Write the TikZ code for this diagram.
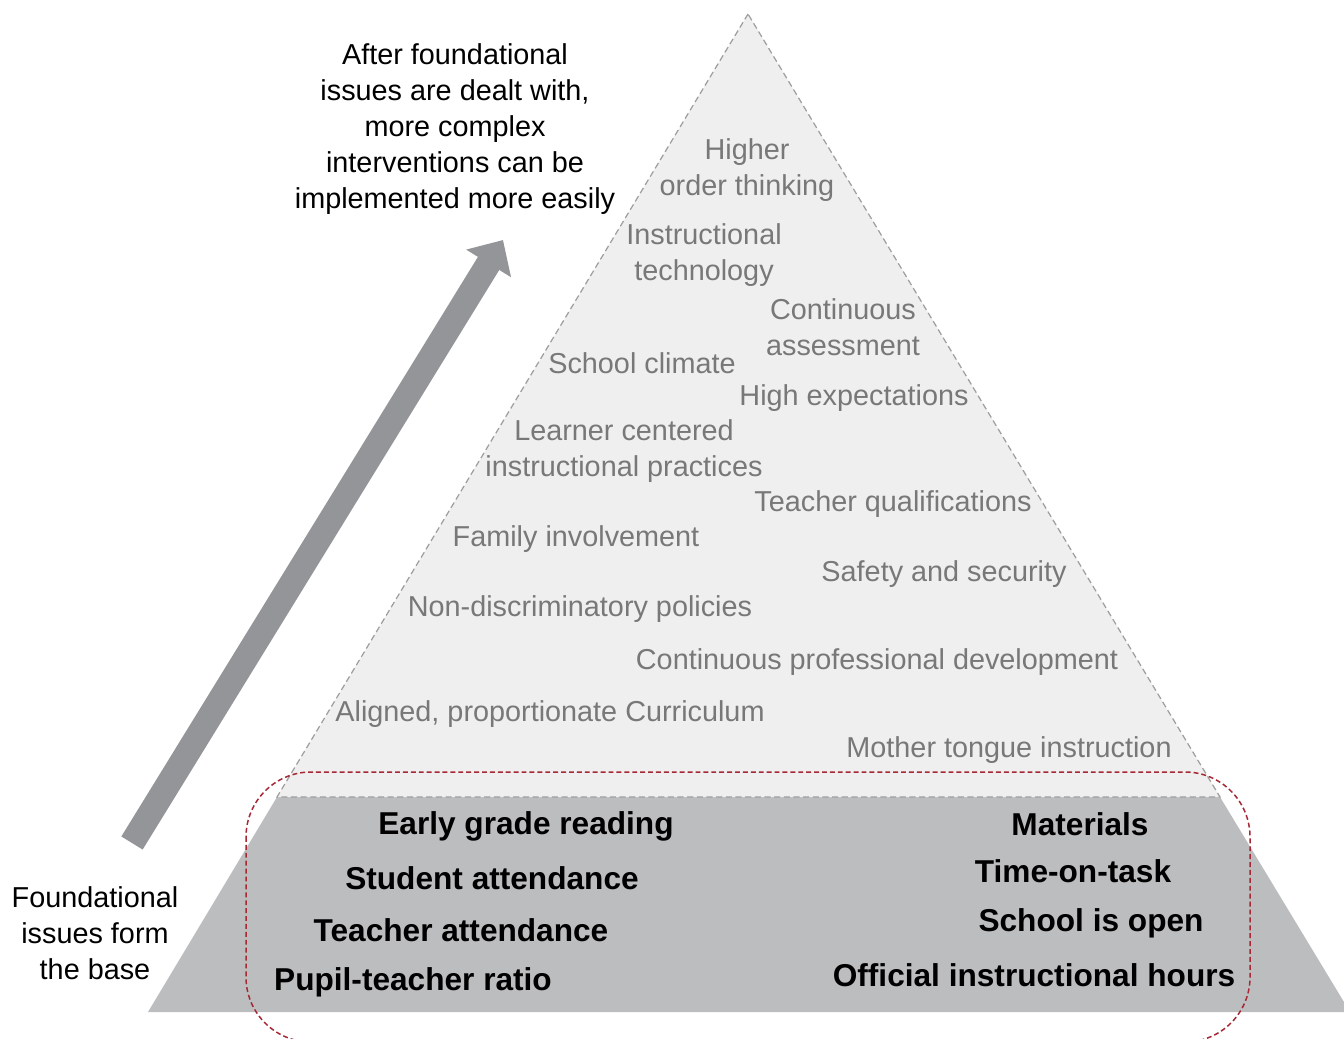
\documentclass[tikz,border=0pt]{standalone}
\usepackage{fontspec}
\setmainfont{Liberation Sans}
\usetikzlibrary{arrows.meta}
\definecolor{lightfill}{RGB}{239,239,239}
\definecolor{basefill}{RGB}{188,189,191}
\definecolor{edgegray}{RGB}{158,158,158}
\definecolor{labelgray}{RGB}{120,120,120}
\definecolor{arrowgray}{RGB}{148,149,152}
\definecolor{darkred}{RGB}{165,40,52}

\begin{document}
\begin{tikzpicture}[x=0.02cm,y=-0.02cm,
  upper/.style={text=labelgray,font=\fontsize{16.4}{20.6}\selectfont,align=center,inner sep=0},
  lower/.style={font=\fontsize{18}{22}\selectfont\bfseries,inner sep=0},
  note/.style={font=\fontsize{16.4}{20.4}\selectfont,align=center,inner sep=0}]
  %canvas in pixels of the reference
  \useasboundingbox (0,0) rectangle (1344,1038);
  \clip (0,0) rectangle (1344,1038);
  \coordinate (top) at (748,14);
  \coordinate (ml) at (277,797);
  \coordinate (mr) at (1220,797);
  \coordinate (bl) at (148,1012);
  \coordinate (br) at (1350,1012);
  %base and upper part
  \fill[basefill] (ml) -- (mr) -- (br) -- (bl) -- cycle;
  \fill[lightfill] (top) -- (ml) -- (mr) -- cycle;
  \draw[edgegray,line width=0.7pt,dash pattern=on 3.5pt off 2pt] (top) -- (ml) -- (mr) -- cycle;
  %foundations frame
  \draw[darkred,line width=0.85pt,dash pattern=on 2.8pt off 1.7pt,rounded corners=1.3cm] (246,772) rectangle (1250,1042);
  %big arrow
  \coordinate (tail) at (132,843);
  \coordinate (tip) at (503,240);
  \draw[arrowgray,line width=0.5cm,-{Triangle[length=0.55cm,width=1.02cm]}] (tail) -- (tip);
  %side notes
  \node[note] (after) at (455,129) {After foundational\\issues are dealt with,\\more complex\\interventions can be\\implemented more easily};
  \node[note] (found) at (95,933) {Foundational\\issues form\\the base};
  %upper labels
  \node[upper] (higher) at (747,170) {Higher\\order thinking};
  \node[upper] (tech) at (704,255) {Instructional\\technology};
  \node[upper] (assess) at (843,327) {Continuous\\assessment};
  \node[upper] (climate) at (642,363) {School climate};
  \node[upper] (expect) at (854,398) {High expectations};
  \node[upper] (learner) at (624,451) {Learner centered\\instructional practices};
  \node[upper] (qualif) at (893,504) {Teacher qualifications};
  \node[upper] (family) at (576,539) {Family involvement};
  \node[upper] (safety) at (944,574) {Safety and security};
  \node[upper] (nondisc) at (580,609) {Non-discriminatory policies};
  \node[upper] (cpd) at (877,662) {Continuous professional development};
  \node[upper] (curric) at (550,714) {Aligned, proportionate Curriculum};
  \node[upper] (mother) at (1009,750) {Mother tongue instruction};
  %base labels
  \node[lower] (reading) at (526,826) {Early grade reading};
  \node[lower] (studatt) at (492,878) {Student attendance};
  \node[lower] (teachatt) at (461,930) {Teacher attendance};
  \node[lower] (ratio) at (413,982) {Pupil-teacher ratio};
  \node[lower] (materials) at (1080,824) {Materials};
  \node[lower] (timetask) at (1073,871) {Time-on-task};
  \node[lower] (open) at (1091,923) {School is open};
  \node[lower] (hours) at (1034,975) {Official instructional hours};
\end{tikzpicture}
\end{document}
